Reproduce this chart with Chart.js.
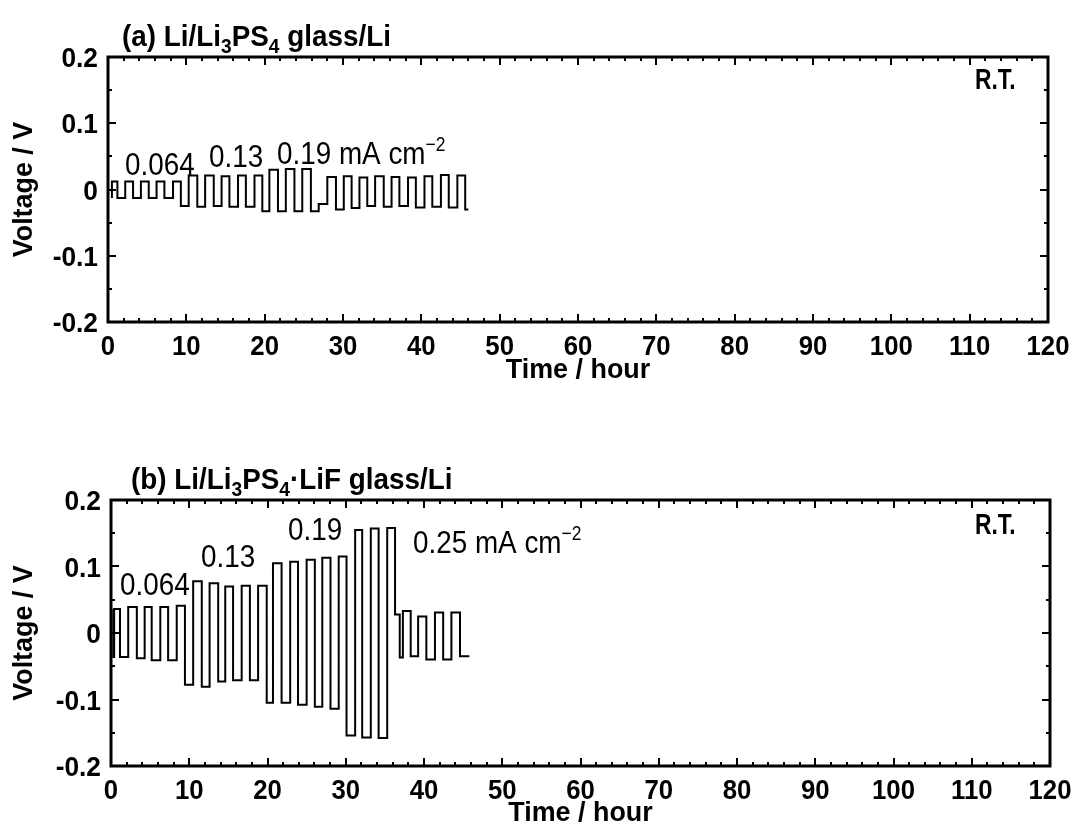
<!DOCTYPE html>
<html>
<head>
<meta charset="utf-8">
<script src="https://cdn.jsdelivr.net/npm/chart.js@4.4.0/dist/chart.umd.min.js"></script>
<style>
body { margin: 0; background: #fff; width: 1075px; height: 837px; position: relative; overflow: hidden; }
canvas { position: absolute; left: 0; }
#chartA { top: 0; }
#chartB { top: 430px; }
</style>
</head>
<body>
<canvas id="chartA" width="1075" height="400"></canvas>
<canvas id="chartB" width="1075" height="407"></canvas>
<script>
// axis ranges
const xMin = 0, xMax = 120, xStep = 10;
const yMin = -0.2, yMax = 0.2, yStep = 0.1;

// (a) Li/Li3PS4 glass/Li : switching times (h) and the voltage held after each
const timeA = [0.5, 1.2, 2.2, 3.2, 4.2, 5.2, 6.2, 7.2, 8.3, 9.3,
               10.3, 11.4, 12.4, 13.5, 14.5, 15.5, 16.6, 17.6, 18.7, 19.7,
               20.6, 21.7, 22.7, 23.8, 24.8, 25.9, 26.9,
               28.0, 29.1, 30.1, 31.1, 32.1, 33.1, 34.1, 35.2, 36.2, 37.2,
               38.3, 39.3, 40.4, 41.4, 42.5, 43.5, 44.6, 45.6, 46.0];
const voltA = [-0.013, 0.012, -0.013, 0.012, -0.013, 0.012, -0.013, 0.012, -0.013, 0.012,
               -0.025, 0.021, -0.026, 0.021, -0.025, 0.020, -0.026, 0.021, -0.026, 0.021,
               -0.033, 0.030, -0.033, 0.031, -0.033, 0.031, -0.033,
               -0.022, 0.019, -0.030, 0.020, -0.028, 0.018, -0.025, 0.020, -0.026, 0.019,
               -0.025, 0.018, -0.027, 0.020, -0.026, 0.022, -0.027, 0.021, -0.030];

// (b) Li/Li3PS4·LiF glass/Li
const timeB = [0.3, 0.4, 1.15, 2.2, 3.3, 4.3, 5.2, 6.3, 7.3, 8.4, 9.45,
               10.5, 11.6, 12.6, 13.7, 14.6, 15.6, 16.7, 17.75, 18.8, 19.9,
               20.7, 21.8, 22.9, 23.9, 25.0, 26.05, 27.0, 28.05, 29.1, 30.1,
               31.2, 32.1, 33.2, 34.2, 35.3, 36.3,
               36.9, 37.3, 38.3, 39.25, 40.3, 41.4, 42.45, 43.5, 44.6, 45.6, 45.8];
const voltB = [0.036, -0.036, 0.036, -0.036, 0.039, -0.038, 0.039, -0.041, 0.039, -0.041, 0.041,
               -0.078, 0.078, -0.081, 0.075, -0.073, 0.070, -0.071, 0.071, -0.071, 0.071,
               -0.105, 0.105, -0.105, 0.107, -0.108, 0.110, -0.111, 0.113, -0.114, 0.115,
               -0.154, 0.155, -0.157, 0.157, -0.158, 0.158,
               0.028, -0.037, 0.033, -0.035, 0.025, -0.040, 0.031, -0.040, 0.031, -0.035, -0.035];

const sans = "'Liberation Sans', Arial, Helvetica, sans-serif";
const bold = s => 'bold ' + s + 'px ' + sans;
const reg = s => s + 'px ' + sans;

function toPoints(t, v) {
    return t.map((x, i) => ({ x: x, y: v[i] }));
}

// text squeezed horizontally to look like the condensed face of the original
function drawText(ctx, text, x, y, font, align, sx) {
    ctx.save();
    ctx.translate(x, y);
    ctx.scale(sx, 1);
    ctx.font = font;
    ctx.textAlign = align;
    ctx.textBaseline = 'alphabetic';
    ctx.fillText(text, 0, 0);
    ctx.restore();
}

function drawRich(ctx, x, y, parts, sx) {
    for (const p of parts) {
        drawText(ctx, p.text, x, y + (p.dy || 0), p.font, 'left', sx);
        ctx.font = p.font;
        x += ctx.measureText(p.text).width * sx;
    }
}

const frameTicks = {
    id: 'frameTicks',
    afterDraw(chart, args, opts) {
        const ctx = chart.ctx;
        const a = chart.chartArea;
        const xs = chart.scales.x, ys = chart.scales.y;
        ctx.save();
        ctx.fillStyle = '#000';
        ctx.strokeStyle = '#000';
        ctx.lineWidth = 2;
        for (let v = xMin; v <= xMax; v += 2) {
            const px = Math.round(xs.getPixelForValue(v));
            const len = v % 10 === 0 ? 8 : 4;
            ctx.beginPath();
            ctx.moveTo(px, a.bottom); ctx.lineTo(px, a.bottom - len);
            ctx.moveTo(px, a.top); ctx.lineTo(px, a.top + len);
            ctx.stroke();
        }
        for (let i = 0; i <= 8; i++) {
            const v = yMin + i * 0.05;
            const py = Math.round(ys.getPixelForValue(v));
            const len = i % 2 === 0 ? 8 : 4;
            ctx.beginPath();
            ctx.moveTo(a.left, py); ctx.lineTo(a.left + len, py);
            ctx.moveTo(a.right, py); ctx.lineTo(a.right - len, py);
            ctx.stroke();
        }
        ctx.lineWidth = 3;
        ctx.strokeRect(a.left, a.top, a.right - a.left, a.bottom - a.top);

        // tick labels from the library's own ticks
        xs.ticks.forEach(t => {
            drawText(ctx, t.label, xs.getPixelForValue(t.value), a.bottom + 33, bold(28), 'center', 0.92);
        });
        ys.ticks.forEach(t => {
            drawText(ctx, t.label, a.left - 10, ys.getPixelForValue(t.value) + 10, bold(28), 'right', 0.94);
        });
        // axis titles
        drawText(ctx, 'Time / hour', (a.left + a.right) / 2, a.bottom + opts.xTitleGap, bold(28), 'center', 0.96);
        ctx.save();
        ctx.translate(32, (a.top + a.bottom) / 2);
        ctx.rotate(-Math.PI / 2);
        drawText(ctx, 'Voltage / V', 0, 0, bold(28), 'center', 0.96);
        ctx.restore();

        for (const item of opts.texts) drawRich(ctx, item.x, item.y, item.parts, item.sx);
        ctx.restore();
    }
};

function makeChart(id, times, volts, left, right, top, bottom, height, texts, xTitleGap) {
    return new Chart(document.getElementById(id), {
        type: 'line',
        data: {
            datasets: [{
                data: toPoints(times, volts),
                stepped: 'after',
                borderColor: '#000',
                borderWidth: 2,
                pointRadius: 0,
                fill: false
            }]
        },
        options: {
            responsive: false,
            animation: false,
            layout: { padding: { left: 0, right: 1075 - right, top: top, bottom: 0 } },
            plugins: {
                legend: { display: false },
                tooltip: { enabled: false },
                frameTicks: { texts: texts, xTitleGap: xTitleGap }
            },
            scales: {
                x: {
                    type: 'linear',
                    min: xMin, max: xMax,
                    grid: { display: false },
                    border: { display: false },
                    ticks: { display: false, stepSize: xStep, autoSkip: false, maxRotation: 0 },
                    afterFit: s => { s.height = height - bottom; }
                },
                y: {
                    min: yMin, max: yMax,
                    grid: { display: false },
                    border: { display: false },
                    ticks: {
                        display: false, stepSize: yStep,
                        callback: v => Math.abs(v) < 1e-9 ? '0' : v.toFixed(1)
                    },
                    afterFit: s => { s.width = left; }
                }
            }
        },
        plugins: [frameTicks]
    });
}

const textsA = [
    { x: 122, y: 46, sx: 0.96, parts: [
        { text: '(a) Li/Li', font: bold(29) }, { text: '3', font: bold(20), dy: 7 },
        { text: 'PS', font: bold(29) }, { text: '4', font: bold(20), dy: 7 },
        { text: ' glass/Li', font: bold(29) }] },
    { x: 125, y: 175, sx: 0.87, parts: [{ text: '0.064', font: reg(32) }] },
    { x: 209, y: 167, sx: 0.87, parts: [{ text: '0.13', font: reg(32) }] },
    { x: 277, y: 164, sx: 0.87, parts: [{ text: '0.19 mA cm', font: reg(32) },
        { text: '\u22122', font: reg(20), dy: -13 }] },
    { x: 975, y: 89, sx: 0.76, parts: [{ text: 'R.T.', font: bold(30) }] }
];

const textsB = [
    { x: 131, y: 59, sx: 0.96, parts: [
        { text: '(b) Li/Li', font: bold(29) }, { text: '3', font: bold(20), dy: 7 },
        { text: 'PS', font: bold(29) }, { text: '4', font: bold(20), dy: 7 },
        { text: '\u00b7LiF glass/Li', font: bold(29) }] },
    { x: 120, y: 165, sx: 0.87, parts: [{ text: '0.064', font: reg(32) }] },
    { x: 201, y: 137, sx: 0.87, parts: [{ text: '0.13', font: reg(32) }] },
    { x: 288, y: 110, sx: 0.87, parts: [{ text: '0.19', font: reg(32) }] },
    { x: 413, y: 123, sx: 0.87, parts: [{ text: '0.25 mA cm', font: reg(32) },
        { text: '\u22122', font: reg(20), dy: -13 }] },
    { x: 975, y: 104, sx: 0.76, parts: [{ text: 'R.T.', font: bold(30) }] }
];

const chartA = makeChart('chartA', timeA, voltA, 108, 1048, 57, 322, 400, textsA, 56);
const chartB = makeChart('chartB', timeB, voltB, 111, 1050, 70, 336, 407, textsB, 55);
</script>
</body>
</html>
